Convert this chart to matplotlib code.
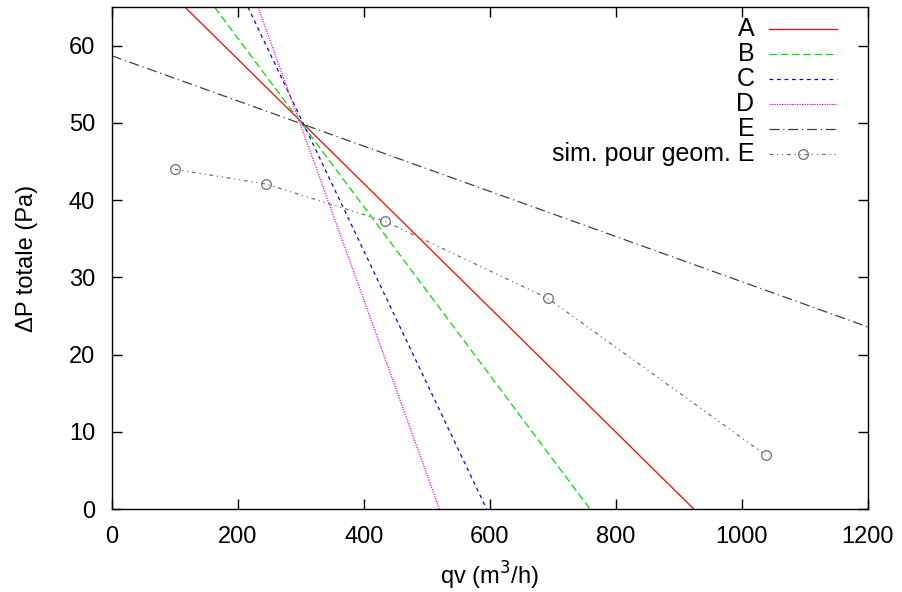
import matplotlib
matplotlib.use("Agg")
import matplotlib.pyplot as plt

plt.rcParams["font.family"] = ["Liberation Sans", "DejaVu Sans"]

# lines: two points each (qv, dP)
lines_qv = {
    "A": [116, 924],
    "B": [163, 759],
    "C": [216, 595],
    "D": [232, 520],
    "E": [0, 1200],
}
lines_dp = {
    "A": [65, 0],
    "B": [65, 0],
    "C": [65, 0],
    "D": [65, 0],
    "E": [58.7, 23.6],
}

# simulated points for geometry E
sim_qv = [100, 244, 433, 692, 1038]
sim_dp = [44.0, 42.1, 37.3, 27.3, 7.0]

styles = {
    "A": dict(color="#ff0000", ls="-"),
    "B": dict(color="#00e000", ls=(0, (6, 3))),
    "C": dict(color="#0000ff", ls=(0, (3, 3))),
    "D": dict(color="#ff00ff", ls=(0, (1, 1))),
    "E": dict(color="#404040", ls=(0, (8, 3, 1, 3))),
}
sim_style = dict(color="#707070", ls=(0, (3, 3, 1, 3, 1, 3)))

fig = plt.figure(figsize=(9.02, 5.92), dpi=100)
ax = fig.add_axes([0.124, 0.140, 0.838, 0.848])

for name in ["A", "B", "C", "D", "E"]:
    ax.plot(lines_qv[name], lines_dp[name], lw=0.9, **styles[name])
ax.plot(sim_qv, sim_dp, lw=0.9, marker="o", ms=7, mfc="none", mec="#707070",
        mew=0.9, **sim_style)

ax.set_xlim(0, 1200)
ax.set_ylim(0, 65)
ax.set_xticks(range(0, 1201, 200))
ax.set_yticks(range(0, 61, 10))
ax.tick_params(direction="in", length=7, width=1, top=True, right=True,
               labelsize=17)
ax.tick_params(axis="x", pad=12)
ax.tick_params(axis="y", pad=12)
for s in ax.spines.values():
    s.set_linewidth(1)

ax.set_xlabel("qv (m$^3$/h)", fontsize=17, labelpad=9)
ax.set_ylabel("ΔP totale (Pa)", fontsize=17, labelpad=22)

# gnuplot style key: label right aligned, sample on the right
labels = ["A", "B", "C", "D", "E", "sim. pour geom. E"]
key_styles = [styles["A"], styles["B"], styles["C"], styles["D"], styles["E"], sim_style]
tr = ax.transAxes
for i, (lab, st) in enumerate(zip(labels, key_styles)):
    y = 0.956 - i * 0.0497
    ax.text(0.850, y, lab, transform=tr, ha="right", va="center", fontsize=18)
    ax.plot([0.870, 0.960], [y, y], transform=tr, lw=0.9, clip_on=False, **st)
    if i == 5:
        ax.plot([0.915], [y], transform=tr, marker="o", ms=7, mfc="none",
                mec="#707070", mew=0.9)

fig.savefig("out.png", dpi=100)
